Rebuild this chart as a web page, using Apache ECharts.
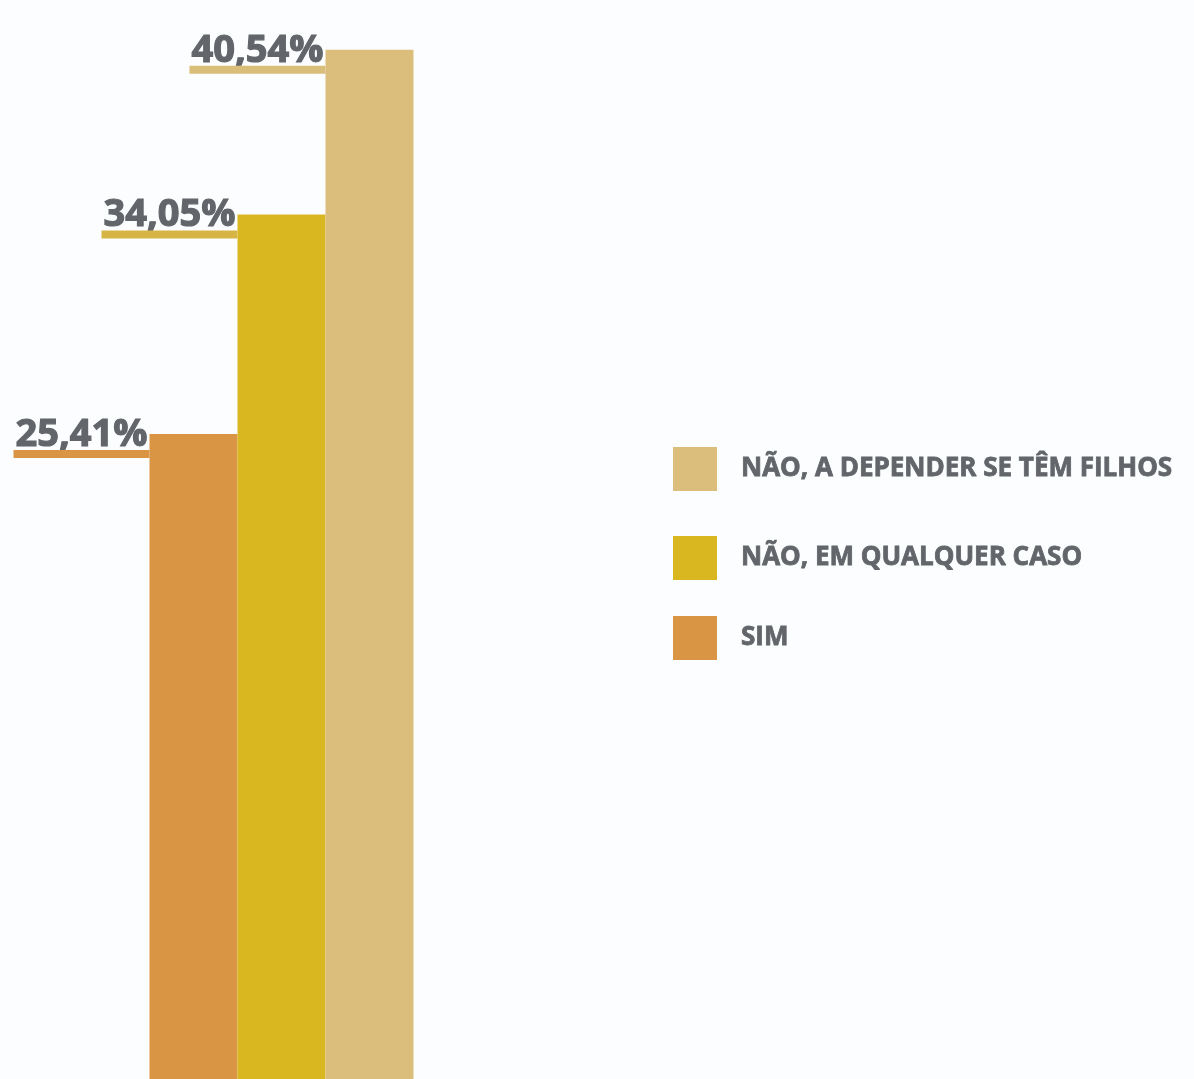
<!DOCTYPE html>
<html>
<head>
<meta charset="utf-8">
<script src="https://cdn.jsdelivr.net/npm/echarts@6/dist/echarts.min.js"></script>
<style>
  html, body { margin: 0; padding: 0; background: #fcfdfe; }
  #chart { width: 1194px; height: 1079px; }
</style>
</head>
<body>
<div id="chart"></div>
<script>
// answers, in bar order (left to right)
const answers = ["SIM", "NÃO, EM QUALQUER CASO", "NÃO, A DEPENDER SE TÊM FILHOS"];
const shares = [25.41, 34.05, 40.54];
const colors = ["#D99543", "#D9B720", "#DBBE7B"];
const lineColors = ["#D99543", "#D7B545", "#D9BE7A"];

const textColor = "#62666B";
const fontFamily = "'Open Sans', 'Noto Sans', sans-serif";

const chart = echarts.init(document.getElementById("chart"));

const fmt = (v) => v.toFixed(2).replace(".", ",") + "%";

const series = answers.map((name, i) => ({
  name: name,
  type: "bar",
  data: [shares[i]],
  barWidth: 88,
  barGap: "0%",
  itemStyle: { color: colors[i] },
  label: {
    show: true,
    position: [0, 24],
    align: "right",
    verticalAlign: "bottom",
    formatter: (p) => "{t|" + fmt(p.value) + "}\n{u|}",
    rich: {
      t: {
        fontFamily: fontFamily,
        fontSize: 38,
        fontWeight: "bold",
        color: textColor,
        textBorderColor: textColor,
        textBorderWidth: 1.2,
        lineHeight: 30,
        align: "right",
        padding: [0, 2, 0, 0],
      },
      u: {
        width: 136,
        height: 8,
        lineHeight: 8,
        backgroundColor: lineColors[i],
        align: "right",
      },
    },
  },
}));

// legend, top to bottom, with the uneven spacing of the original
const legendTops = [447, 536, 616];
const legendOrder = [2, 1, 0];
const legends = legendOrder.map((idx, k) => ({
  data: [answers[idx]],
  left: 673,
  top: legendTops[k],
  orient: "vertical",
  padding: 0,
  icon: "rect",
  itemWidth: 44,
  itemHeight: 44,
  selectedMode: false,
  textStyle: {
    fontFamily: fontFamily,
    fontSize: 26,
    fontWeight: "bold",
    color: textColor,
    textBorderColor: textColor,
    textBorderWidth: 0.8,
    padding: [0, 0, 10, 19],
  },
}));

chart.setOption({
  backgroundColor: "#fcfdfe",
  animation: false,
  grid: { left: 149, width: 265, top: 0, bottom: 0 },
  xAxis: {
    type: "category",
    data: [""],
    show: false,
  },
  yAxis: {
    type: "value",
    min: 0,
    max: 42.5,
    show: false,
  },
  legend: legends,
  series: series,
});

window.addEventListener("resize", () => chart.resize());
</script>
</body>
</html>
